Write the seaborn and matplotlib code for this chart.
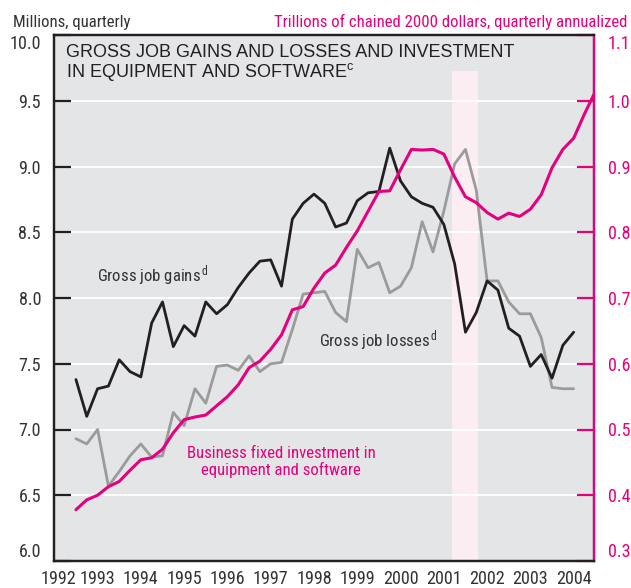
import numpy as np
import pandas as pd
import matplotlib
matplotlib.use("Agg")
import matplotlib.pyplot as plt
import matplotlib.transforms as mtransforms
from matplotlib import font_manager as fm
import seaborn as sns

# quarterly data
gl_quarters = pd.period_range("1992Q3", "2004Q1", freq="Q")
inv_quarters = pd.period_range("1992Q3", "2004Q3", freq="Q")

gains = [7.38, 7.10, 7.31, 7.33, 7.53, 7.44, 7.40, 7.81, 7.97, 7.63, 7.79, 7.71,
         7.97, 7.88, 7.95, 8.08, 8.19, 8.28, 8.29, 8.09, 8.60, 8.72, 8.79, 8.72,
         8.54, 8.57, 8.74, 8.80, 8.81, 9.14, 8.89, 8.77, 8.72, 8.69, 8.56, 8.26,
         7.74, 7.89, 8.13, 8.06, 7.77, 7.71, 7.48, 7.57, 7.39, 7.64, 7.74]
losses = [6.93, 6.89, 7.00, 6.57, 6.68, 6.80, 6.89, 6.79, 6.80, 7.13, 7.03, 7.31,
          7.20, 7.48, 7.49, 7.45, 7.56, 7.44, 7.50, 7.51, 7.76, 8.03, 8.04, 8.05,
          7.89, 7.82, 8.37, 8.23, 8.27, 8.04, 8.09, 8.23, 8.58, 8.35, 8.66, 9.02,
          9.13, 8.82, 8.13, 8.13, 7.97, 7.88, 7.88, 7.70, 7.32, 7.31, 7.31]
investment = [0.378, 0.393, 0.400, 0.413, 0.421, 0.438, 0.454, 0.457, 0.470, 0.495,
              0.515, 0.519, 0.522, 0.536, 0.550, 0.568, 0.594, 0.604, 0.622, 0.644,
              0.682, 0.687, 0.715, 0.738, 0.750, 0.777, 0.802, 0.832, 0.862, 0.863,
              0.895, 0.926, 0.925, 0.926, 0.919, 0.884, 0.854, 0.845, 0.830, 0.820,
              0.829, 0.824, 0.835, 0.857, 0.898, 0.926, 0.943, 0.980, 1.014]

recession = (2001.2, 2001.8)
years = list(range(1992, 2005))
left_ticks = [6.0, 6.5, 7.0, 7.5, 8.0, 8.5, 9.0, 9.5, 10.0]
right_ticks = [0.3, 0.4, 0.5, 0.6, 0.7, 0.8, 0.9, 1.0, 1.1]


def to_year(q):
    return q.year + (q.quarter - 1) / 4


def pick_narrow_font():
    # the chart uses a condensed grotesque; take the best narrow face we have
    prefer = ["Liberation Sans Narrow", "Arial Narrow", "Roboto Condensed",
              "Noto Sans", "Open Sans", "DejaVu Sans"]
    narrow = []
    for f in fm.fontManager.ttflist:
        is_narrow = ("condensed" in str(f.stretch) or "Narrow" in f.name
                     or "Condensed" in f.name)
        if is_narrow and f.style == "normal" and str(f.weight) in ("400", "normal", "regular", "book"):
            narrow.append(f)
    for p in prefer:
        for f in narrow:
            if f.name.startswith(p):
                return f.name, f.stretch
    if narrow:
        return narrow[0].name, narrow[0].stretch
    return "Roboto", "normal"


df = pd.DataFrame({"t": to_year(gl_quarters), "gains": gains, "losses": losses})
inv = pd.DataFrame({"t": to_year(inv_quarters), "inv": investment})

sns.set_style("white")
narrow_name, narrow_stretch = pick_narrow_font()
plt.rcParams["font.family"] = [narrow_name, "DejaVu Sans"]
plt.rcParams["font.stretch"] = narrow_stretch
plt.rcParams["mathtext.default"] = "regular"

MAG = "#e5007d"
BLK = "#231f20"
GRY = "#9b9b9b"
TXT = "#333333"
W, H = 631, 588

fig = plt.figure(figsize=(W / 100, H / 100), dpi=100)

# size the narrow font so a sample label has the reference width (~102 px)
probe = fig.text(0, 0, "Gross job gains", fontsize=13)
fig.canvas.draw()
pw = probe.get_window_extent().width
probe.remove()
FS = min(14.5, 13 * 102 / pw)
TFS = FS * 1.08  # tick labels a touch larger

ax = fig.add_axes([54.3 / W, 1 - 561 / H, (594 - 54.3) / W, (561 - 35) / H])
ax.set_facecolor("#e4e5e7")
ax2 = ax.twinx()

ax.axvspan(*recession, ymin=0, ymax=(9.73 - 6) / 4, color="#fcedf2", lw=0, zorder=0.3)
ax.set_axisbelow(True)
ax.yaxis.grid(True, color="white", lw=1.3)

sns.lineplot(data=df, x="t", y="losses", ax=ax, color=GRY, lw=2.0)
sns.lineplot(data=df, x="t", y="gains", ax=ax, color=BLK, lw=2.0)
sns.lineplot(data=inv, x="t", y="inv", ax=ax2, color=MAG, lw=2.2)

ax.set_xlim(1992, 2004.47)
ax.set_ylim(6, 10)
ax2.set_ylim(0.3, 1.1)
ax.set_xlabel("")
ax.set_ylabel("")
ax2.set_ylabel("")

ax.set_xticks(years)
ax.set_xticklabels([str(y) for y in years])
ax.set_yticks(left_ticks)
ax.set_yticklabels([f"{v:.1f}" for v in left_ticks])
ax2.set_yticks(right_ticks)
ax2.set_yticklabels([f"{v:.1f}" for v in right_ticks])

ax.tick_params(axis="x", direction="in", length=12, width=1.6, color=BLK,
               labelsize=TFS, labelcolor=TXT, pad=6.5)
ax.tick_params(axis="y", direction="in", length=12, width=1.6, color=BLK,
               labelsize=TFS, labelcolor=TXT, pad=9.5)
ax2.tick_params(axis="y", direction="in", length=12, width=1.6, color=MAG,
                labelsize=TFS, labelcolor=MAG, pad=10)

for a in (ax, ax2):
    for s in a.spines.values():
        s.set_linewidth(1.6)
        s.set_color(BLK)
ax2.spines["right"].set_color(MAG)

for labels in (ax.get_yticklabels(), ax2.get_yticklabels()):
    labels[0].set_va("bottom")
    labels[-1].set_va("top")

# first year label sits a little right of the corner
first = ax.get_xticklabels()[0]
first.set_transform(first.get_transform() +
                    mtransforms.ScaledTranslation(4 / 100, 0, fig.dpi_scale_trans))

# headers
fig.text(12.7 / W, 1 - 27.3 / H, "Millions, quarterly", fontsize=FS, color=TXT,
         ha="left", va="baseline")
fig.text(627 / W, 1 - 26.7 / H, "Trillions of chained 2000 dollars, quarterly annualized",
         fontsize=FS, color=MAG, ha="right", va="baseline")

fig.text(65.7 / W, 1 - 57.3 / H, "GROSS JOB GAINS AND LOSSES AND INVESTMENT",
         fontsize=13, color=BLK, family="Liberation Sans", stretch="normal", va="baseline")
fig.text(65.7 / W, 1 - 77.3 / H, "IN EQUIPMENT AND SOFTWARE$^{c}$",
         fontsize=13, color=BLK, family="Liberation Sans", stretch="normal", va="baseline")

fig.text(96.7 / W, 1 - 281.7 / H, "Gross job gains$^{\\,d}$", fontsize=FS, color=TXT,
         va="baseline")
fig.text(319.3 / W, 1 - 346.7 / H, "Gross job losses$^{\\,d}$", fontsize=FS, color=TXT,
         va="baseline")
fig.text(281 / W, 1 - 458.3 / H, "Business fixed investment in", fontsize=FS,
         color=MAG, ha="center", va="baseline")
fig.text(281 / W, 1 - 475.5 / H, "equipment and software", fontsize=FS,
         color=MAG, ha="center", va="baseline")

fig.savefig("out.png", dpi=100)
